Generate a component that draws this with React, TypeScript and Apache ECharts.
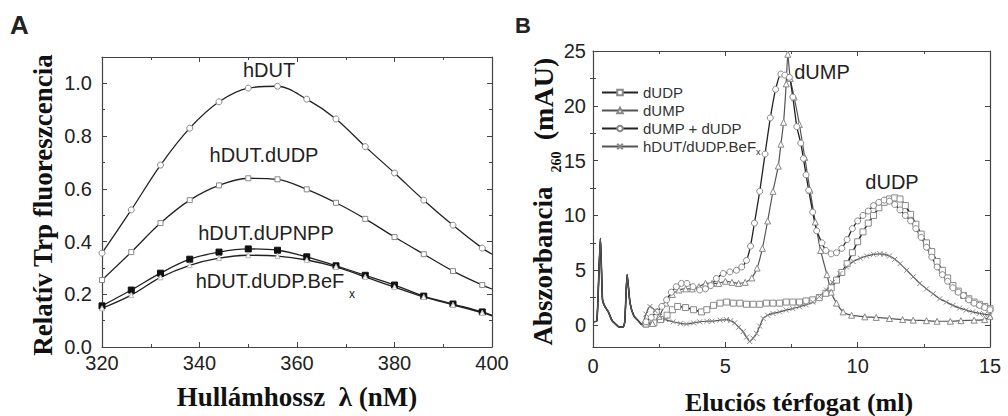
import React, { useEffect, useRef } from "react";
import * as echarts from "echarts";

// ---------- Panel A data ----------
const A_X = [320, 326, 332, 338, 344, 350, 356, 362, 368, 374, 380, 386, 392, 398, 400];
const A_HDUT = [0.356, 0.52, 0.69, 0.83, 0.93, 0.982, 0.989, 0.94, 0.865, 0.76, 0.66, 0.557, 0.462, 0.375, 0.352];
const A_HDUT_DUDP = [0.254, 0.36, 0.47, 0.557, 0.613, 0.64, 0.636, 0.598, 0.547, 0.486, 0.417, 0.352, 0.288, 0.235, 0.22];
const A_HDUT_DUPNPP = [0.156, 0.216, 0.28, 0.333, 0.36, 0.372, 0.367, 0.342, 0.308, 0.272, 0.235, 0.193, 0.163, 0.133, 0.12];
const A_HDUT_BEFX = [0.147, 0.197, 0.264, 0.31, 0.337, 0.348, 0.345, 0.33, 0.304, 0.266, 0.227, 0.19, 0.16, 0.13, 0.118];
const A_X_TICKS = [320, 340, 360, 380, 400];

// ---------- Panel B data ----------
const B_SPIKES: number[][] = [
  [0.05, 0.3], [0.15, 0.4], [0.28, 7.9], [0.36, 2.3], [0.45, 1.7], [0.58, 1.2], [0.72, 0.4],
  [0.85, 0.1], [0.96, -0.15], [1.13, -0.2], [1.2, 0.3], [1.29, 4.6], [1.4, 2.0], [1.55, 0.8],
  [1.71, 0.4], [1.85, 0.05],
];
const B_DUDP_TAIL: number[][] = [
  [2.0, 0.1], [2.3, 0.2], [2.55, 0.5], [2.8, 0.9], [3.0, 1.4], [3.2, 1.7], [3.5, 1.6], [3.8, 1.4],
  [4.1, 1.2], [4.3, 1.4], [4.55, 1.8], [4.8, 2.0], [5.05, 2.1], [5.3, 2.0], [5.55, 2.0], [5.8, 1.9],
  [6.05, 1.9], [6.3, 1.9], [6.55, 2.0], [6.8, 2.0], [7.05, 2.0], [7.3, 2.1], [7.55, 2.1], [7.8, 2.1],
  [8.05, 2.2], [8.3, 2.3], [8.55, 2.5], [8.8, 2.9], [9.0, 3.4], [9.2, 4.1], [9.4, 4.8], [9.6, 5.6],
  [9.8, 6.6], [10.0, 7.6], [10.2, 8.5], [10.4, 9.3], [10.6, 10.0], [10.8, 10.7], [11.0, 11.2],
  [11.2, 11.5], [11.4, 11.6], [11.6, 11.5], [11.8, 10.9], [12.0, 10.1], [12.2, 9.2], [12.4, 8.3],
  [12.6, 7.5], [12.8, 6.7], [13.0, 5.8], [13.2, 5.0], [13.4, 4.3], [13.6, 3.6], [13.8, 3.1],
  [14.0, 2.7], [14.2, 2.4], [14.4, 2.1], [14.6, 1.9], [14.8, 1.7], [15.0, 1.5],
];
const B_DUMP_TAIL: number[][] = [
  [2.0, 0.1], [2.25, 0.15], [2.5, 0.8], [2.75, 2.0], [3.0, 2.8], [3.25, 3.2], [3.5, 3.3], [3.75, 3.3],
  [4.0, 3.5], [4.25, 3.8], [4.5, 3.8], [4.75, 3.8], [5.0, 4.0], [5.25, 3.9], [5.5, 3.8], [5.75, 3.9],
  [6.0, 4.3], [6.2, 5.2], [6.4, 7.0], [6.6, 9.5], [6.8, 12.2], [7.0, 14.5], [7.1, 16.5], [7.2, 18.5],
  [7.3, 22.0], [7.36, 24.7], [7.45, 22.5], [7.6, 20.8], [7.8, 18.3], [8.0, 15.3], [8.2, 12.3],
  [8.4, 9.4], [8.6, 6.8], [8.84, 4.6], [9.0, 3.0], [9.2, 2.0], [9.45, 1.2], [9.77, 0.9],
  [10.27, 0.75], [10.7, 0.7], [11.2, 0.6], [11.7, 0.5], [12.1, 0.45], [12.6, 0.4], [13.0, 0.35],
  [13.5, 0.35], [13.9, 0.4], [14.4, 0.45], [14.8, 0.5], [15.0, 0.8],
];
const B_MIX_TAIL: number[][] = [
  [2.0, 0.3], [2.2, 0.7], [2.4, 1.2], [2.6, 1.7], [2.78, 2.3], [2.96, 3.0], [3.15, 3.5], [3.34, 3.8],
  [3.55, 3.8], [3.78, 3.5], [4.03, 3.2], [4.25, 3.3], [4.45, 3.6], [4.66, 4.25], [4.92, 4.7],
  [5.17, 4.85], [5.42, 5.0], [5.62, 5.3], [5.8, 5.9], [5.95, 7.2], [6.1, 9.3], [6.3, 12.2],
  [6.5, 15.6], [6.7, 18.9], [6.9, 21.5], [7.1, 22.9], [7.25, 22.8], [7.42, 22.6], [7.55, 20.8],
  [7.7, 18.1], [7.85, 16.6], [7.95, 15.2], [8.05, 13.7], [8.15, 12.3], [8.3, 10.3], [8.45, 8.6],
  [8.65, 7.5], [8.8, 6.8], [9.0, 6.5], [9.2, 6.6], [9.4, 7.0], [9.6, 7.8], [9.8, 8.8], [10.0, 9.5],
  [10.2, 10.0], [10.4, 10.4], [10.6, 10.9], [10.8, 11.2], [11.0, 11.4], [11.2, 11.3], [11.4, 11.0],
  [11.6, 10.5], [11.8, 10.0], [12.0, 9.5], [12.2, 8.8], [12.4, 8.0], [12.6, 7.1], [12.8, 6.2],
  [13.0, 5.3], [13.2, 4.6], [13.4, 4.0], [13.6, 3.4], [13.8, 3.0], [14.0, 2.7], [14.2, 2.3],
  [14.4, 2.0], [14.6, 1.8], [14.8, 1.6], [15.0, 1.4],
];
const B_BEFX_TAIL: number[][] = [
  [2.0, 1.0], [2.15, 1.7], [2.35, 1.3], [2.52, 0.8], [2.75, 0.5], [3.03, 0.3], [3.3, 0.15],
  [3.53, 0.1], [3.8, 0.2], [4.03, 0.3], [4.3, 0.35], [4.5, 0.36], [4.8, 0.45], [5.04, 0.5],
  [5.2, 0.4], [5.35, 0.2], [5.5, -0.2], [5.67, -0.6], [5.8, -1.1], [5.92, -1.5], [6.05, -1.2],
  [6.18, -0.76], [6.3, -0.1], [6.43, 0.6], [6.6, 0.9], [6.8, 1.06], [7.05, 1.2], [7.3, 1.37],
  [7.55, 1.5], [7.8, 1.67], [8.05, 1.85], [8.3, 2.1], [8.55, 2.6], [8.82, 3.2], [9.05, 3.9],
  [9.33, 4.7], [9.58, 5.3], [9.83, 5.8], [10.1, 6.1], [10.34, 6.3], [10.6, 6.45], [10.84, 6.5],
  [11.0, 6.45], [11.2, 6.3], [11.4, 6.0], [11.6, 5.6], [11.85, 5.0], [12.1, 4.4], [12.35, 3.8],
  [12.6, 3.3], [12.85, 2.85], [13.1, 2.4], [13.35, 2.1], [13.6, 1.8], [13.85, 1.55], [14.1, 1.37],
  [14.35, 1.2], [14.6, 1.06], [14.8, 0.97], [15.0, 0.9],
];
const B_Y_MAJOR = [0, 5, 10, 15, 20, 25];
const B_Y_MINOR = [-2.5, 2.5, 7.5, 12.5, 17.5, 22.5];
const B_NAMES = ["dUDP", "dUMP", "dUMP + dUDP", "hDUT/dUDP.BeFx"];

const SANS = "Liberation Sans, Arial, Helvetica, sans-serif";
const SERIF = "Liberation Serif, Times New Roman, serif";
const AXIS_COLOR = "#444";
const X_PATH = "path://M0,0L8,8M8,0L0,8";

export default function App() {
  const ref = useRef<HTMLDivElement>(null);
  useEffect(() => {
    if (!ref.current) return;
    const chart = echarts.init(ref.current, undefined, { renderer: "svg" });

    const axisLine = { show: true, onZero: false, lineStyle: { color: AXIS_COLOR, width: 1.2 } };
    const tick = { show: true, inside: true, length: 5, lineStyle: { color: AXIS_COLOR, width: 1 } };
    const minor = { show: true, splitNumber: 2, length: 3, lineStyle: { color: AXIS_COLOR, width: 1 } };
    const lbl = { fontSize: 20, color: "#222", fontFamily: SANS };

    const aData = (arr: number[]) =>
      A_X.map((x, i) => (x === 400 ? { value: [x, arr[i]], symbol: "none" } : { value: [x, arr[i]] }));
    const bData = (tail: number[][]) => [
      ...B_SPIKES.map((p) => ({ value: p, symbol: "none" })),
      ...tail.map((p) => ({ value: p })),
    ];

    const aSeries = (name: string, arr: number[], symbol: string, size: number, item: any) => ({
      type: "line", name, xAxisIndex: 0, yAxisIndex: 0, data: aData(arr), smooth: 0.35,
      symbol, symbolSize: size, showAllSymbol: true,
      lineStyle: { color: "#222", width: 1.3 }, itemStyle: item, z: 3,
    });
    const bSeries = (name: string, tail: number[][], symbol: string, size: number, line: any, item: any) => ({
      type: "line", name, xAxisIndex: 2, yAxisIndex: 2, data: bData(tail), smooth: 0.2,
      symbol, symbolSize: size, showAllSymbol: true,
      lineStyle: line, itemStyle: item, z: 3,
    });
    const open = { color: "#fff", borderColor: "#888", borderWidth: 1 };

    const rot = Math.PI / 2;
    const txt = (x: number, y: number, text: string, fontSize: number, opts: any = {}) => ({
      type: "text", x, y, rotation: opts.rotation || 0, silent: true,
      style: {
        text, fontSize, fontFamily: opts.fontFamily || SANS, fontWeight: opts.fontWeight || "normal",
        fill: opts.fill || "#222", align: opts.align || "center", verticalAlign: "middle",
      },
    });
    const title = { fontFamily: SERIF, fontWeight: "bold", fill: "#111" };

    chart.setOption({
      animation: false,
      backgroundColor: "#fff",
      grid: [
        { left: 102, top: 57, width: 390, height: 290, outerBoundsMode: "none", containLabel: false },
        { left: 593, top: 51, width: 397, height: 296, outerBoundsMode: "none", containLabel: false },
      ],
      xAxis: [
        { type: "value", gridIndex: 0, position: "bottom", min: 320, max: 400, interval: 20,
          axisLine, axisTick: tick, minorTick: minor, splitLine: { show: false },
          axisLabel: { ...lbl, margin: 6, formatter: (v: number) => (A_X_TICKS.includes(v) ? String(v) : "") } },
        { type: "value", gridIndex: 0, position: "top", min: 320, max: 400, interval: 20,
          axisLine, axisTick: tick, minorTick: minor, splitLine: { show: false }, axisLabel: { show: false } },
        { type: "value", gridIndex: 1, position: "bottom", min: 0, max: 15, interval: 5,
          axisLine, axisTick: tick, minorTick: minor, splitLine: { show: false },
          axisLabel: { ...lbl, margin: 9 } },
        { type: "value", gridIndex: 1, position: "top", min: 0, max: 15, interval: 5,
          axisLine, axisTick: tick, minorTick: minor, splitLine: { show: false }, axisLabel: { show: false } },
      ],
      yAxis: [
        { type: "value", gridIndex: 0, position: "left", min: 0, max: 1.1, interval: 0.2,
          axisLine, axisTick: tick, minorTick: minor, splitLine: { show: false },
          axisLabel: { ...lbl, margin: 10, formatter: (v: number) => (v > 1.05 ? "" : v.toFixed(1)) } },
        { type: "value", gridIndex: 0, position: "right", min: 0, max: 1.1, interval: 0.2,
          axisLine, axisTick: tick, minorTick: minor, splitLine: { show: false }, axisLabel: { show: false } },
        { type: "value", gridIndex: 1, position: "left", min: -2, max: 25,
          axisLine, axisTick: { ...tick, customValues: B_Y_MAJOR }, splitLine: { show: false },
          axisLabel: { ...lbl, margin: 7, customValues: B_Y_MAJOR } },
        { type: "value", gridIndex: 1, position: "right", min: -2, max: 25,
          axisLine, axisTick: { ...tick, customValues: B_Y_MAJOR }, splitLine: { show: false },
          axisLabel: { show: false } },
        { type: "value", gridIndex: 1, position: "left", min: -2, max: 25,
          axisLine: { show: false }, axisTick: { ...tick, length: 3, customValues: B_Y_MINOR },
          splitLine: { show: false }, axisLabel: { show: false } },
        { type: "value", gridIndex: 1, position: "right", min: -2, max: 25,
          axisLine: { show: false }, axisTick: { ...tick, length: 3, customValues: B_Y_MINOR },
          splitLine: { show: false }, axisLabel: { show: false } },
      ],
      legend: {
        data: B_NAMES, orient: "vertical", left: 596, top: 80, itemWidth: 36, itemHeight: 7, itemGap: 3,
        textStyle: {
          fontSize: 15, color: "#333", fontFamily: SANS,
          rich: {
            n: { fontSize: 15, color: "#333", fontFamily: SANS },
            s: { fontSize: 9, color: "#333", fontFamily: SANS, padding: [10, 0, 0, 0] },
          },
        },
        formatter: (name: string) => (name === "hDUT/dUDP.BeFx" ? "{n|hDUT/dUDP.BeF}{s|x}" : "{n|" + name + "}"),
      },
      series: [
        aSeries("hDUT", A_HDUT, "circle", 6, open),
        aSeries("hDUT.dUDP", A_HDUT_DUDP, "rect", 5, open),
        aSeries("hDUT.dUPNPP", A_HDUT_DUPNPP, "rect", 6, { color: "#111", borderColor: "#111", borderWidth: 1 }),
        aSeries("hDUT.dUDP.BeFx", A_HDUT_BEFX, "triangle", 5, { color: "#fff", borderColor: "#bbb", borderWidth: 1 }),
        bSeries("dUDP", B_DUDP_TAIL, "rect", 6, { color: "#222", width: 1.6 }, open),
        bSeries("dUMP", B_DUMP_TAIL, "triangle", 6, { color: "#555", width: 1.2 }, open),
        bSeries("dUMP + dUDP", B_MIX_TAIL, "circle", 6, { color: "#222", width: 1.3 }, open),
        bSeries("hDUT/dUDP.BeFx", B_BEFX_TAIL, X_PATH, 5, { color: "#555", width: 1.2 },
          { color: "#888", borderColor: "#888", borderWidth: 1 }),
      ],
      graphic: [
        txt(10, 25, "A", 26, { align: "left", fontWeight: "bold" }),
        txt(515, 25, "B", 22, { align: "left", fontWeight: "bold" }),
        txt(269, 70, "hDUT", 20),
        txt(264, 155, "hDUT.dUDP", 20),
        txt(266, 233, "hDUT.dUPNPP", 20),
        txt(270, 281, "hDUT.dUDP.BeF", 20),
        txt(349, 294, "x", 12, { align: "left" }),
        txt(822, 72, "dUMP", 20),
        txt(892, 182, "dUDP", 20),
        txt(43, 205, "Relatív Trp fluoreszcencia", 27, { rotation: rot, ...title }),
        txt(297, 397, "Hullámhossz  λ (nM)", 27, title),
        txt(799, 402, "Eluciós térfogat (ml)", 26, title),
        txt(543, 266, "Abszorbancia", 27, { rotation: rot, ...title }),
        txt(556, 162, "260", 14, { rotation: rot, ...title }),
        txt(543, 99, "(mAU)", 28, { rotation: rot, ...title }),
      ],
    });
    return () => chart.dispose();
  }, []);
  return <div ref={ref} style={{ position: "absolute", left: 0, top: 0, width: 1008, height: 416 }} />;
}
